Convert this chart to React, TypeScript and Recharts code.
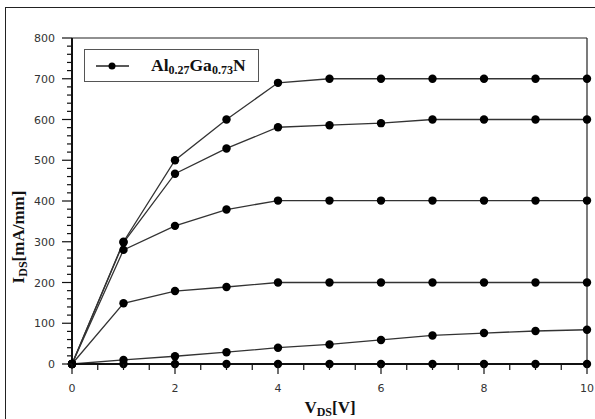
import { LineChart, Line, XAxis, YAxis, ReferenceLine, Legend, Label } from 'recharts';

const vds = [0, 1, 2, 3, 4, 5, 6, 7, 8, 9, 10];
const id1 = [0, 300, 500, 600, 690, 700, 700, 700, 700, 700, 700];
const id2 = [0, 298, 467, 529, 581, 586, 591, 600, 600, 600, 600];
const id3 = [0, 280, 339, 379, 401, 401, 401, 401, 401, 401, 401];
const id4 = [0, 149, 179, 189, 200, 200, 200, 200, 200, 200, 200];
const id5 = [0, 10, 19, 29, 40, 48, 59, 70, 76, 81, 84];
const id6 = [0, 0, 0, 0, 0, 0, 0, 0, 0, 0, 0];
const series = [id1, id2, id3, id4, id5, id6];

const xTicks = [0, 0.5, 1, 1.5, 2, 2.5, 3, 3.5, 4, 4.5, 5, 5.5, 6, 6.5, 7, 7.5, 8, 8.5, 9, 9.5, 10];
const yTicks = Array.from({ length: 41 }, (_, i) => i * 20);

const data = vds.map((v, i) => {
  const row: Record<string, number> = { vds: v };
  series.forEach((s, k) => { row['s' + k] = s[i]; });
  return row;
});

const tickFont = { fontFamily: 'DejaVu Sans', fontSize: 11, fill: '#333' };
const titleFont = { fontFamily: 'Liberation Serif', fontWeight: 'bold' as const, fill: '#111' };

// eslint-disable-next-line @typescript-eslint/no-explicit-any
const XTick = (p: any) => {
  const v = p.payload.value;
  const major = v % 2 === 0;
  return (
    <g>
      <line x1={p.x} x2={p.x} y1={p.y} y2={p.y + (major ? 10 : 6)} stroke="#111" strokeWidth={1.2} />
      {major && <text x={p.x} y={p.y + 28} textAnchor="middle" {...tickFont}>{v}</text>}
    </g>
  );
};

// eslint-disable-next-line @typescript-eslint/no-explicit-any
const YTick = (p: any) => {
  const v = p.payload.value;
  const major = v % 100 === 0;
  return (
    <g>
      <line x1={p.x} x2={p.x - (major ? 10 : 5)} y1={p.y} y2={p.y} stroke="#111" strokeWidth={1.2} />
      {major && <text x={p.x - 17} y={p.y + 4} textAnchor="end" {...tickFont}>{v}</text>}
    </g>
  );
};

const LegendBox = () => (
  <div style={{
    width: 175, height: 33, border: '1.5px solid #555', background: '#fff', boxSizing: 'border-box',
    display: 'flex', alignItems: 'center',
  }}>
    <svg width={58} height={20} style={{ marginLeft: 8 }}>
      <line x1={3} x2={36} y1={10} y2={10} stroke="#222" strokeWidth={1.3} />
      <circle cx={19} cy={10} r={3.5} fill="#000" />
    </svg>
    <span style={{ fontFamily: 'Liberation Serif', fontWeight: 'bold', fontSize: 17.5, color: '#111', lineHeight: '20px' }}>
      Al<span style={{ fontSize: 12, position: 'relative', top: 3 }}>0.27</span>Ga
      <span style={{ fontSize: 12, position: 'relative', top: 3 }}>0.73</span>N
    </span>
  </div>
);

export default function App() {
  return (
    <div style={{ position: 'absolute', left: 0, top: 0, width: 595, height: 419, overflow: 'hidden', background: '#fff' }}>
      <div style={{ position: 'absolute', left: 5, top: 7, width: 620, height: 440, border: '1.5px solid #222' }} />
      <LineChart width={595} height={419} data={data} margin={{ top: 38, right: 8, bottom: 0, left: 0 }}
        style={{ position: 'absolute', left: 0, top: 0 }}>
        <XAxis dataKey="vds" type="number" domain={[0, 10]} ticks={xTicks} interval={0}
          tickSize={0} tickMargin={0} tickLine={false} tick={XTick} height={55}
          axisLine={{ stroke: '#111', strokeWidth: 2 }}>
          <Label content={() => (
            <text x={330} y={413} textAnchor="middle" {...titleFont} fontSize={17}>
              V<tspan fontSize={12} dy={3}>DS</tspan><tspan dy={-3}>[V]</tspan>
            </text>
          )} />
        </XAxis>
        <YAxis type="number" domain={[0, 800]} ticks={yTicks} interval={0} width={72}
          tickSize={0} tickMargin={0} tickLine={false} tick={YTick}
          axisLine={{ stroke: '#111', strokeWidth: 2 }}>
          <Label content={() => (
            <text x={24} y={237} transform="rotate(-90 24 237)" textAnchor="middle" {...titleFont} fontSize={17}>
              I<tspan fontSize={12} dy={3}>DS</tspan><tspan dy={-3}>[mA/mm]</tspan>
            </text>
          )} />
        </YAxis>
        <ReferenceLine y={800} stroke="#222" strokeWidth={1.2} />
        <ReferenceLine x={10} stroke="#222" strokeWidth={1.2} />
        <Legend layout="vertical" align="center" verticalAlign="middle" content={LegendBox}
          wrapperStyle={{ position: 'absolute', left: 84, top: 49, width: 175, height: 33 }} />
        {series.map((_, k) => (
          <Line key={k} dataKey={'s' + k} type="linear" stroke="#333" strokeWidth={1.3}
            dot={{ r: 4.2, fill: '#000', stroke: '#000', strokeWidth: 0 }} activeDot={false}
            isAnimationActive={false} />
        ))}
      </LineChart>
    </div>
  );
}
